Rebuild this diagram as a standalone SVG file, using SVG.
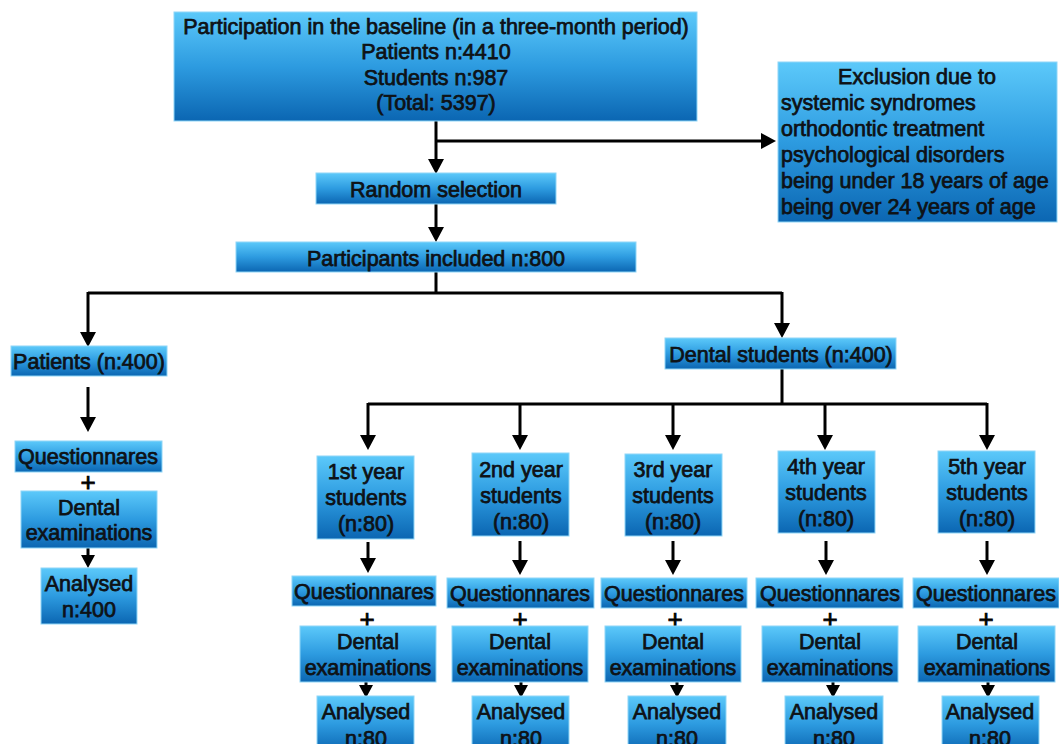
<svg xmlns="http://www.w3.org/2000/svg" width="1059" height="744" viewBox="0 0 1059 744">
<defs>
<linearGradient id="g" x1="0" y1="0" x2="0" y2="1">
<stop offset="0" stop-color="#5cc9fa"/>
<stop offset="0.5" stop-color="#2d9be0"/>
<stop offset="1" stop-color="#0b66b2"/>
</linearGradient>
<marker id="ah" markerUnits="userSpaceOnUse" markerWidth="16" markerHeight="16" refX="11" refY="8" orient="auto">
<path d="M0,0 L15,8 L0,16 z" fill="#000"/>
</marker>
<marker id="ahs" markerUnits="userSpaceOnUse" markerWidth="14" markerHeight="14" refX="9" refY="7" orient="auto">
<path d="M0,0 L13,7 L0,14 z" fill="#000"/>
</marker>
</defs>
<style>
.b{fill:url(#g);stroke:#8fd6f7;stroke-width:1}
.t{font-family:"Liberation Sans",Arial,sans-serif;font-size:21.5px;fill:#0e1216;stroke:#0e1216;stroke-width:0.75;text-anchor:middle}
.l{text-anchor:start}
.c{fill:none;stroke:#000;stroke-width:3}
.a{marker-end:url(#ah)}
.s{marker-end:url(#ahs)}
.p{font-family:"Liberation Sans",Arial,sans-serif;font-size:26px;fill:#000;stroke:#000;stroke-width:0.8;text-anchor:middle}
</style>
<rect width="1059" height="744" fill="#fff"/>

<g id="connectors">
<path class="c a" d="M436,121 V170"/>
<path class="c a" d="M436,141 H772"/>
<path class="c a" d="M436,204 V238"/>
<path class="c" d="M436,272 V293 M88,293 H782"/>
<path class="c a" d="M88,292 V343"/>
<path class="c a" d="M782,292 V334"/>
<path class="c a" d="M88,387 V428"/>
<path class="c s" d="M88,548 V564"/>
<path class="c" d="M782,369 V404 M368,404 H987"/>
<path class="c a" d="M368,403 V446"/>
<path class="c a" d="M520,403 V446"/>
<path class="c a" d="M673,403 V446"/>
<path class="c a" d="M825,403 V446"/>
<path class="c a" d="M987,403 V446"/>
<path class="c a" d="M368,542 V569"/>
<path class="c a" d="M520,541 V571"/>
<path class="c a" d="M673,541 V571"/>
<path class="c a" d="M826,541 V571"/>
<path class="c a" d="M987,541 V571"/>
<path class="c s" d="M366,680 V694"/>
<path class="c s" d="M521,680 V694"/>
<path class="c s" d="M677,680 V694"/>
<path class="c s" d="M833,680 V694"/>
<path class="c s" d="M988,680 V694"/>
</g>

<g id="baseline">
<rect class="b" x="174" y="12" width="523" height="109"/>
<text class="t" x="436" y="34">Participation in the baseline (in a three-month period)</text>
<text class="t" x="436" y="59">Patients n:4410</text>
<text class="t" x="436" y="85">Students n:987</text>
<text class="t" x="436" y="110">(Total: 5397)</text>
</g>

<g id="exclusion">
<rect class="b" x="778" y="62" width="279" height="160"/>
<text class="t" x="917" y="84">Exclusion due to</text>
<text class="t l" x="781" y="110">systemic syndromes</text>
<text class="t l" x="781" y="136">orthodontic treatment</text>
<text class="t l" x="781" y="162">psychological disorders</text>
<text class="t l" x="781" y="188">being under 18 years of age</text>
<text class="t l" x="781" y="214">being over 24 years of age</text>
</g>

<g id="random">
<rect class="b" x="316" y="173" width="240" height="31"/>
<text class="t" x="436" y="197">Random selection</text>
</g>

<g id="included">
<rect class="b" x="236" y="242" width="400" height="30"/>
<text class="t" x="436" y="266">Participants included n:800</text>
</g>

<g id="patients">
<rect class="b" x="11" y="346" width="156" height="30"/>
<text class="t" x="89" y="369">Patients (n:400)</text>
</g>
<g id="patients-q">
<rect class="b" x="15" y="441" width="147" height="31"/>
<text class="t" x="88" y="464">Questionnares</text>
<text class="p" x="88" y="491">+</text>
</g>
<g id="patients-d">
<rect class="b" x="21" y="491" width="136" height="57"/>
<text class="t" x="89" y="515">Dental</text>
<text class="t" x="89" y="540">examinations</text>
</g>
<g id="patients-a">
<rect class="b" x="41" y="568" width="96" height="56"/>
<text class="t" x="89" y="591">Analysed</text>
<text class="t" x="89" y="617">n:400</text>
</g>

<g id="students">
<rect class="b" x="665" y="338" width="231" height="31"/>
<text class="t" x="781" y="362">Dental students (n:400)</text>
</g>

<g id="y1">
<rect class="b" x="317" y="456" width="97" height="83"/>
<text class="t" x="366" y="479">1st year</text>
<text class="t" x="366" y="505">students</text>
<text class="t" x="366" y="531">(n:80)</text>
</g>
<g id="y2">
<rect class="b" x="472" y="453" width="97" height="83"/>
<text class="t" x="521" y="477">2nd year</text>
<text class="t" x="521" y="503">students</text>
<text class="t" x="521" y="529">(n:80)</text>
</g>
<g id="y3">
<rect class="b" x="625" y="454" width="97" height="82"/>
<text class="t" x="673" y="477">3rd year</text>
<text class="t" x="673" y="503">students</text>
<text class="t" x="673" y="529">(n:80)</text>
</g>
<g id="y4">
<rect class="b" x="778" y="451" width="97" height="82"/>
<text class="t" x="826" y="474">4th year</text>
<text class="t" x="826" y="500">students</text>
<text class="t" x="826" y="526">(n:80)</text>
</g>
<g id="y5">
<rect class="b" x="938" y="451" width="97" height="82"/>
<text class="t" x="987" y="474">5th year</text>
<text class="t" x="987" y="500">students</text>
<text class="t" x="987" y="526">(n:80)</text>
</g>

<g id="q1"><rect class="b" x="292" y="576" width="144" height="30"/><text class="t" x="364" y="599">Questionnares</text><text class="p" x="367" y="628">+</text></g>
<g id="q2"><rect class="b" x="447" y="578" width="147" height="30"/><text class="t" x="520" y="601">Questionnares</text><text class="p" x="520" y="628">+</text></g>
<g id="q3"><rect class="b" x="601" y="578" width="146" height="30"/><text class="t" x="674" y="601">Questionnares</text><text class="p" x="675" y="628">+</text></g>
<g id="q4"><rect class="b" x="756" y="578" width="147" height="30"/><text class="t" x="830" y="601">Questionnares</text><text class="p" x="830" y="628">+</text></g>
<g id="q5"><rect class="b" x="913" y="578" width="146" height="30"/><text class="t" x="986" y="601">Questionnares</text><text class="p" x="986" y="628">+</text></g>

<g id="d1"><rect class="b" x="300" y="626" width="136" height="56"/><text class="t" x="368" y="649">Dental</text><text class="t" x="368" y="675">examinations</text></g>
<g id="d2"><rect class="b" x="452" y="626" width="136" height="56"/><text class="t" x="520" y="649">Dental</text><text class="t" x="520" y="675">examinations</text></g>
<g id="d3"><rect class="b" x="605" y="626" width="136" height="56"/><text class="t" x="673" y="649">Dental</text><text class="t" x="673" y="675">examinations</text></g>
<g id="d4"><rect class="b" x="762" y="626" width="136" height="56"/><text class="t" x="830" y="649">Dental</text><text class="t" x="830" y="675">examinations</text></g>
<g id="d5"><rect class="b" x="918" y="626" width="137" height="56"/><text class="t" x="987" y="649">Dental</text><text class="t" x="987" y="675">examinations</text></g>

<g id="a1"><rect class="b" x="317" y="696" width="97" height="56"/><text class="t" x="366" y="719">Analysed</text><text class="t" x="366" y="746">n:80</text></g>
<g id="a2"><rect class="b" x="472" y="696" width="97" height="56"/><text class="t" x="521" y="719">Analysed</text><text class="t" x="521" y="746">n:80</text></g>
<g id="a3"><rect class="b" x="628" y="696" width="98" height="56"/><text class="t" x="677" y="719">Analysed</text><text class="t" x="677" y="746">n:80</text></g>
<g id="a4"><rect class="b" x="785" y="696" width="98" height="56"/><text class="t" x="834" y="719">Analysed</text><text class="t" x="834" y="746">n:80</text></g>
<g id="a5"><rect class="b" x="942" y="696" width="97" height="56"/><text class="t" x="990" y="719">Analysed</text><text class="t" x="990" y="746">n:80</text></g>
</svg>
